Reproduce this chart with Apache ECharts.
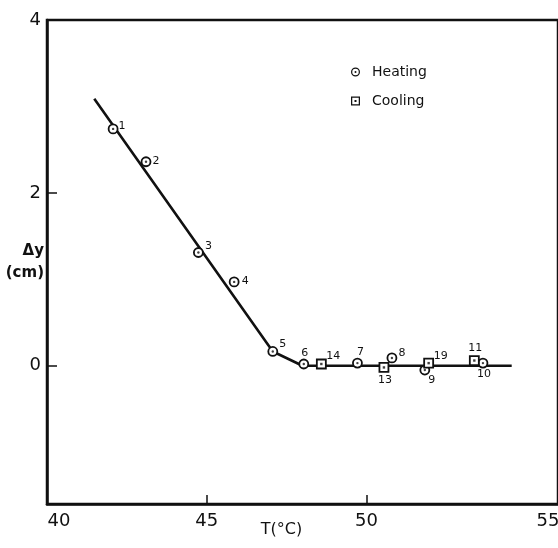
<!DOCTYPE html>
<html>
<head>
<meta charset="utf-8">
<script src="https://cdn.jsdelivr.net/npm/echarts@6/dist/echarts.min.js"></script>
<style>
  html, body { margin: 0; padding: 0; background: #fff; }
  #chart { width: 558px; height: 548px; }
</style>
</head>
<body>
<div id="chart"></div>
<script>
// heating run (circles)
const heatNum = [1, 2, 3, 4, 5, 6, 7, 8, 9, 10];
const heatT = [42.07, 43.10, 44.74, 45.86, 47.07, 48.04, 49.72, 50.80, 51.83, 53.65];
const heatDy = [2.74, 2.36, 1.31, 0.97, 0.165, 0.02, 0.03, 0.09, -0.05, 0.03];

// cooling run (squares)
const coolNum = [14, 13, 19, 11];
const coolT = [48.59, 50.55, 51.95, 53.38];
const coolDy = [0.02, -0.02, 0.03, 0.06];

// drawn trend line
const lineT = [41.48, 47.07, 48.0, 54.55];
const lineDy = [3.09, 0.165, 0.0, 0.0];

// axis ticks
const xTicks = [45, 50];
const xLabels = [40, 45, 50, 55];
const yTicks = [0, 2];
const yLabels = [0, 2, 4];

// where the point numbers sit, px from the marker centre
const heatLabelOffset = [[9, -3], [10, -1], [10, -6], [11, -1], [10, -7], [1, -11], [3, -11], [10, -5], [7, 10], [1, 11]];
const coolLabelOffset = [[12, -8], [1, 13], [12, -7], [1, -12]];

const font = 'DejaVu Sans';
const ink = '#111';

const ringPath = 'path://M0,-5A5,5 0 1,1 0,5A5,5 0 1,1 0,-5Z M0,-3.6A3.6,3.6 0 1,0 0,3.6A3.6,3.6 0 1,0 0,-3.6Z M0,-1.1A1.1,1.1 0 1,1 0,1.1A1.1,1.1 0 1,1 0,-1.1Z';
const boxPath = 'path://M-5,-5L5,-5L5,5L-5,5Z M-3.6,-3.6L-3.6,3.6L3.6,3.6L3.6,-3.6Z M-1.1,-1.1L1.1,-1.1L1.1,1.1L-1.1,1.1Z';

function points(ts, dys, nums, offs) {
  return ts.map((t, i) => ({
    value: [t, dys[i], nums[i]],
    label: { offset: offs[i] }
  }));
}

const chart = echarts.init(document.getElementById('chart'));

chart.setOption({
  animation: false,
  backgroundColor: '#fff',
  grid: {
    left: 47, top: 20, right: 0, bottom: 44,
    containLabel: false, outerBoundsMode: 'none',
    show: true, borderColor: ink, borderWidth: 2.5
  },
  legend: {
    orient: 'vertical',
    left: 346, top: 60,
    itemWidth: 9, itemHeight: 9, itemGap: 15,
    textStyle: { fontFamily: font, fontSize: 14, color: ink, padding: [0, 0, 0, 7] },
    data: [
      { name: 'Heating', icon: ringPath, itemStyle: { color: ink, borderWidth: 0 } },
      { name: 'Cooling', icon: boxPath, itemStyle: { color: ink, borderWidth: 0 } }
    ]
  },
  xAxis: {
    type: 'value', min: 40, max: 56,
    splitLine: { show: false },
    axisLine: { show: true, onZero: false, lineStyle: { color: ink, width: 2.5 } },
    axisTick: { show: true, inside: true, length: 9, customValues: xTicks, lineStyle: { color: ink, width: 1.5 } },
    axisLabel: {
      customValues: xLabels, margin: 8,
      fontFamily: font, fontSize: 18, color: ink,
      formatter: v => v === 40 ? '{a|40}' : v === 55 ? '{b|55}' : String(v),
      rich: {
        a: { fontFamily: font, fontSize: 18, color: ink, padding: [0, 0, 0, 24] },
        b: { fontFamily: font, fontSize: 18, color: ink, padding: [0, 0, 0, 44] }
      }
    },
    name: 'T(°C)', nameLocation: 'middle', nameGap: 18, nameMoveOverlap: false,
    nameTextStyle: { fontFamily: font, fontSize: 16, color: ink, padding: [0, 42, 0, 0] }
  },
  yAxis: {
    type: 'value', min: -1.6, max: 4,
    splitLine: { show: false },
    axisLine: { show: true, onZero: false, lineStyle: { color: ink, width: 2.5 } },
    axisTick: { show: true, inside: true, length: 10, customValues: yTicks, lineStyle: { color: ink, width: 1.5 } },
    axisLabel: { customValues: yLabels, margin: 6, fontFamily: font, fontSize: 18, color: ink },
    name: 'Δy\n(cm)', nameLocation: 'middle', nameRotate: 0, nameGap: 3, nameMoveOverlap: false,
    nameTextStyle: { fontFamily: font, fontSize: 15, fontWeight: 'bold', color: ink, align: 'right', lineHeight: 22 }
  },
  series: [
    {
      type: 'line', z: 1, silent: true,
      data: lineT.map((t, i) => [t, lineDy[i]]),
      symbol: 'none',
      lineStyle: { color: ink, width: 2.6 }
    },
    {
      name: 'Heating', type: 'scatter', z: 2,
      symbol: 'circle', symbolSize: 9,
      itemStyle: { color: '#fff', borderColor: ink, borderWidth: 1.8, opacity: 1 },
      label: {
        show: true, position: 'inside',
        fontFamily: font, fontSize: 11, color: ink,
        formatter: p => p.value[2]
      },
      data: points(heatT, heatDy, heatNum, heatLabelOffset)
    },
    {
      name: 'Cooling', type: 'scatter', z: 2,
      symbol: 'rect', symbolSize: 9,
      itemStyle: { color: '#fff', borderColor: ink, borderWidth: 1.8, opacity: 1 },
      label: {
        show: true, position: 'inside',
        fontFamily: font, fontSize: 11, color: ink,
        formatter: p => p.value[2]
      },
      data: points(coolT, coolDy, coolNum, coolLabelOffset)
    },
    {
      type: 'scatter', z: 3, silent: true,
      symbol: 'circle', symbolSize: 2.4,
      itemStyle: { color: ink },
      data: heatT.map((t, i) => [t, heatDy[i]])
    },
    {
      type: 'scatter', z: 3, silent: true,
      symbol: 'rect', symbolSize: 2.4,
      itemStyle: { color: ink },
      data: coolT.map((t, i) => [t, coolDy[i]])
    }
  ]
});
</script>
</body>
</html>
